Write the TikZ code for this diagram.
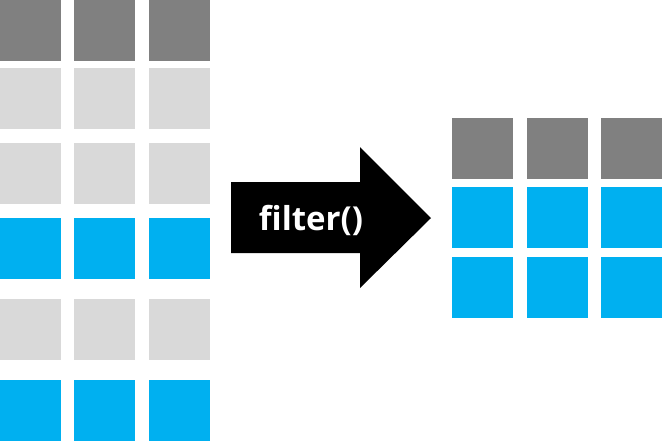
\documentclass[tikz,border=0pt]{standalone}
\usepackage{fontspec}
\setsansfont{Open Sans}
\definecolor{headgray}{HTML}{808080}
\definecolor{rowgray}{HTML}{D9D9D9}
\definecolor{keepblue}{HTML}{00B0F0}
\begin{document}
\begin{tikzpicture}[x=1pt,y=-1pt,
  cell/.style={anchor=north west, inner sep=0pt, outer sep=0pt, minimum width=61pt, minimum height=61pt},
  verb/.style={text=white, inner sep=0pt, font=\sffamily\bfseries\fontsize{33}{33}\selectfont}]
\useasboundingbox (0,0) rectangle (662,440);
% table before filtering
\foreach \r/\y/\c in {1/0/headgray, 2/68/rowgray, 3/143/rowgray, 4/218/keepblue, 5/299/rowgray, 6/380/keepblue}
  \foreach \k/\x in {1/0, 2/74, 3/149}
    \node[cell, fill=\c] (in-\r-\k) at (\x,\y) {};
% table after filtering
\foreach \r/\y/\c in {1/118/headgray, 2/187/keepblue, 3/257/keepblue}
  \foreach \k/\x in {1/452, 2/527, 3/601}
    \node[cell, fill=\c] (out-\r-\k) at (\x,\y) {};
% arrow
\fill (231,182) -- (360,182) -- (360,147) -- (431,218) -- (360,288) -- (360,253) -- (231,253) -- cycle;
\node[verb] (call) at (311,220) {filter()};
\end{tikzpicture}
\end{document}
